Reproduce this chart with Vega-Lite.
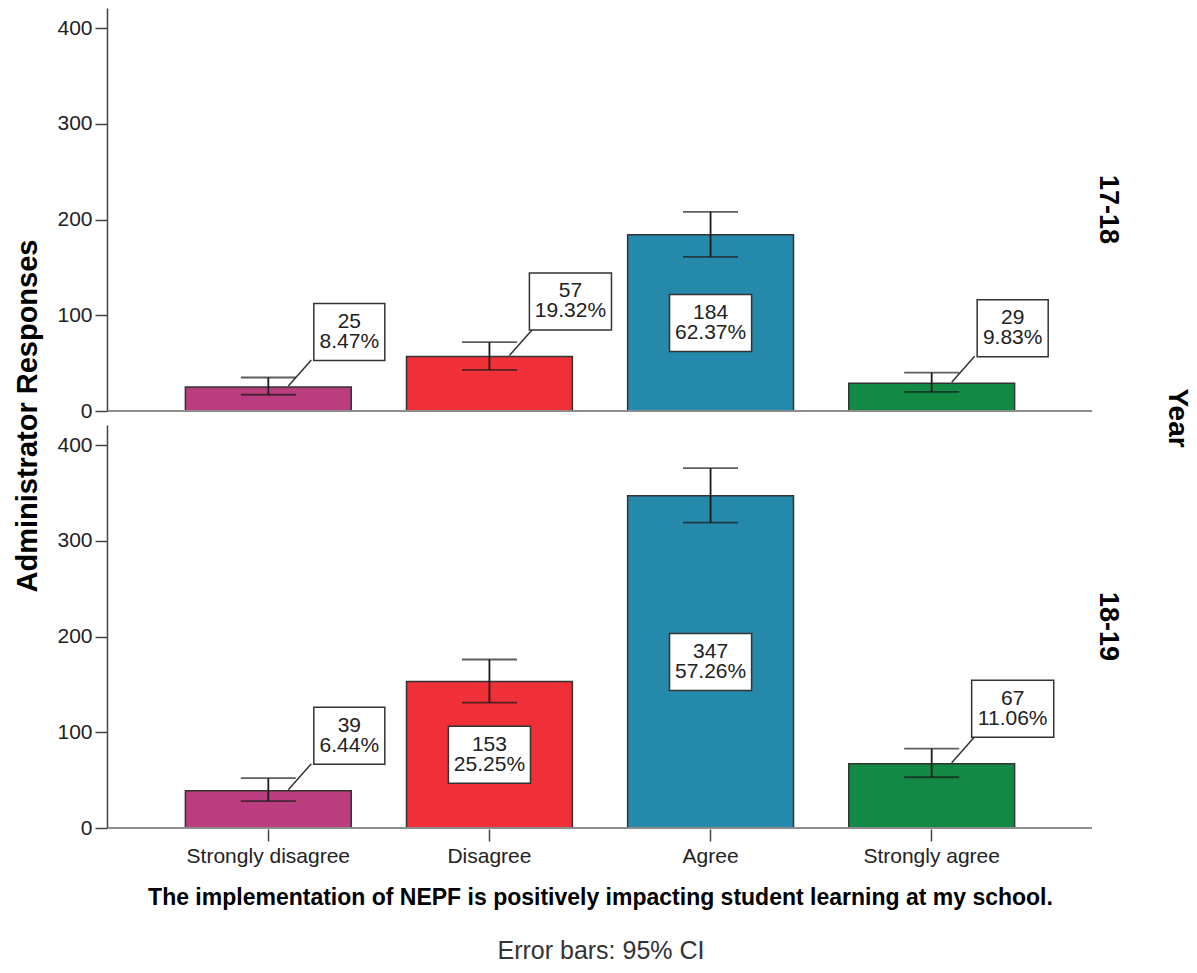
{
  "$schema": "https://vega.github.io/schema/vega-lite/v6.json",
  "background": "white",
  "padding": {"left": 13, "top": 8, "right": 5, "bottom": 2},
  "title": {"text": "Administrator Responses", "orient": "left", "anchor": "middle", "font": "Liberation Sans", "fontSize": 29, "fontWeight": "bold", "color": "black", "offset": 14, "dx": 70},
  "data": {"values": [
    {"year": "17-18", "resp": "Strongly disagree", "count": 25, "pct": "8.47%", "lo": 17, "hi": 35},
    {"year": "17-18", "resp": "Disagree", "count": 57, "pct": "19.32%", "lo": 43, "hi": 72},
    {"year": "17-18", "resp": "Agree", "count": 184, "pct": "62.37%", "lo": 161, "hi": 208},
    {"year": "17-18", "resp": "Strongly agree", "count": 29, "pct": "9.83%", "lo": 20, "hi": 40},
    {"year": "18-19", "resp": "Strongly disagree", "count": 39, "pct": "6.44%", "lo": 28, "hi": 52},
    {"year": "18-19", "resp": "Disagree", "count": 153, "pct": "25.25%", "lo": 131, "hi": 176},
    {"year": "18-19", "resp": "Agree", "count": 347, "pct": "57.26%", "lo": 319, "hi": 376},
    {"year": "18-19", "resp": "Strongly agree", "count": 67, "pct": "11.06%", "lo": 53, "hi": 83}
  ]},
  "vconcat": [
    {
      "title": {"text": "Error bars: 95% CI", "orient": "bottom", "anchor": "middle", "font": "Liberation Sans", "fontSize": 25, "fontWeight": "normal", "color": "#333333", "offset": 30, "dx": -23},
      "transform": [
        {"calculate": "datum.count + '\\n' + datum.pct", "as": "label"},
        {"calculate": "datum.count / 2", "as": "mid"}
      ],
      "facet": {
        "row": {
          "field": "year", "type": "nominal", "sort": ["17-18", "18-19"], "title": "Year",
          "header": {
            "labelOrient": "right", "labelAngle": 90, "labelFont": "Liberation Sans", "labelFontSize": 27, "labelFontWeight": "bold", "labelColor": "black", "labelPadding": 1,
            "titleOrient": "right", "titleAngle": 90, "titleFont": "Liberation Sans", "titleFontSize": 28, "titleFontWeight": "bold", "titleColor": "black", "titlePadding": 31
          }
        }
      },
      "spacing": {"row": 13},
      "spec": {
        "width": 984,
        "height": 403,
        "layer": [
          {
            "mark": {"type": "bar", "stroke": "#333333", "strokeWidth": 1.5},
            "encoding": {
              "x": {"field": "resp", "type": "nominal", "sort": ["Strongly disagree", "Disagree", "Agree", "Strongly agree"],
                    "scale": {"paddingInner": 0.25, "paddingOuter": 0.35},
                    "axis": {"title": "The implementation of NEPF is positively impacting student learning at my school.", "titleFont": "Liberation Sans", "titleFontSize": 23, "titleFontWeight": "bold", "titleColor": "black", "titlePadding": 20,
                             "labelFont": "Liberation Sans", "labelFontSize": 21, "labelColor": "#222222", "labelAngle": 0, "labelPadding": 4, "tickSize": 12, "tickColor": "#444444", "tickWidth": 1.5, "domain": false}},
              "y": {"field": "count", "type": "quantitative", "title": null, "scale": {"domain": [0, 421], "nice": false},
                    "axis": {"values": [0, 100, 200, 300, 400],
                             "labelFont": "Liberation Sans", "labelFontSize": 21, "labelColor": "#222222", "labelPadding": 3, "tickSize": 12, "tickColor": "#444444", "tickWidth": 1.5, "domainColor": "#444444", "domainWidth": 1.5, "grid": false}},
              "color": {"field": "resp", "type": "nominal", "scale": {"domain": ["Strongly disagree", "Disagree", "Agree", "Strongly agree"], "range": ["#BA3D7D", "#EF3039", "#2589AB", "#128A45"]}, "legend": null}
            }
          },
          {
            "mark": {"type": "rule", "color": "#8c8c8c", "strokeWidth": 1.5},
            "encoding": {"y": {"datum": 0, "type": "quantitative", "title": null}}
          },
          {
            "mark": {"type": "rule", "color": "#1a1a1a", "strokeWidth": 1.8},
            "encoding": {
              "x": {"field": "resp", "type": "nominal", "sort": ["Strongly disagree", "Disagree", "Agree", "Strongly agree"]},
              "y": {"field": "lo", "type": "quantitative", "title": null},
              "y2": {"field": "hi"}
            }
          },
          {
            "mark": {"type": "tick", "orient": "horizontal", "size": 55, "thickness": 1.8, "color": "#1a1a1a"},
            "encoding": {
              "x": {"field": "resp", "type": "nominal", "sort": ["Strongly disagree", "Disagree", "Agree", "Strongly agree"]},
              "y": {"field": "lo", "type": "quantitative", "title": null}
            }
          },
          {
            "mark": {"type": "tick", "orient": "horizontal", "size": 55, "thickness": 1.8, "color": "#1a1a1a"},
            "encoding": {
              "x": {"field": "resp", "type": "nominal", "sort": ["Strongly disagree", "Disagree", "Agree", "Strongly agree"]},
              "y": {"field": "hi", "type": "quantitative", "title": null}
            }
          },
          {
            "transform": [{"filter": "datum.count <= 100"}],
            "mark": {"type": "rule", "color": "#333333", "strokeWidth": 1.5, "xOffset": 20, "yOffset": -1, "x2Offset": 43, "y2Offset": -27},
            "encoding": {
              "x": {"field": "resp", "type": "nominal", "sort": ["Strongly disagree", "Disagree", "Agree", "Strongly agree"]},
              "x2": {"field": "resp"},
              "y": {"field": "count", "type": "quantitative", "title": null},
              "y2": {"field": "count"}
            }
          },
          {
            "transform": [{"filter": "datum.count <= 100"}],
            "mark": {"type": "point", "filled": true, "fill": "white", "stroke": "#333333", "strokeWidth": 1.5, "opacity": 1, "size": 3249, "xOffset": 81, "yOffset": -55},
            "encoding": {
              "x": {"field": "resp", "type": "nominal", "sort": ["Strongly disagree", "Disagree", "Agree", "Strongly agree"]},
              "y": {"field": "count", "type": "quantitative", "title": null},
              "shape": {"condition": {"test": "length(datum.pct) > 5", "value": "M-1.44,-1L1.44,-1L1.44,1L-1.44,1Z"}, "value": "M-1.246,-1L1.246,-1L1.246,1L-1.246,1Z"}
            }
          },
          {
            "transform": [{"filter": "datum.count <= 100"}],
            "mark": {"type": "text", "font": "Liberation Sans", "fontSize": 21, "lineBreak": "\n", "lineHeight": 20, "align": "center", "baseline": "middle", "color": "#222222", "xOffset": 81, "yOffset": -65},
            "encoding": {
              "x": {"field": "resp", "type": "nominal", "sort": ["Strongly disagree", "Disagree", "Agree", "Strongly agree"]},
              "y": {"field": "count", "type": "quantitative", "title": null},
              "text": {"field": "label"}
            }
          },
          {
            "transform": [{"filter": "datum.count > 100"}],
            "mark": {"type": "point", "filled": true, "fill": "white", "stroke": "#333333", "strokeWidth": 1.5, "opacity": 1, "size": 3249},
            "encoding": {
              "x": {"field": "resp", "type": "nominal", "sort": ["Strongly disagree", "Disagree", "Agree", "Strongly agree"]},
              "y": {"field": "mid", "type": "quantitative", "title": null},
              "shape": {"condition": {"test": "length(datum.pct) > 5", "value": "M-1.44,-1L1.44,-1L1.44,1L-1.44,1Z"}, "value": "M-1.246,-1L1.246,-1L1.246,1L-1.246,1Z"}
            }
          },
          {
            "transform": [{"filter": "datum.count > 100"}],
            "mark": {"type": "text", "font": "Liberation Sans", "fontSize": 21, "lineBreak": "\n", "lineHeight": 20, "align": "center", "baseline": "middle", "color": "#222222", "yOffset": -10},
            "encoding": {
              "x": {"field": "resp", "type": "nominal", "sort": ["Strongly disagree", "Disagree", "Agree", "Strongly agree"]},
              "y": {"field": "mid", "type": "quantitative", "title": null},
              "text": {"field": "label"}
            }
          }
        ]
      }
    }
  ],
  "config": {"view": {"stroke": null}}
}
